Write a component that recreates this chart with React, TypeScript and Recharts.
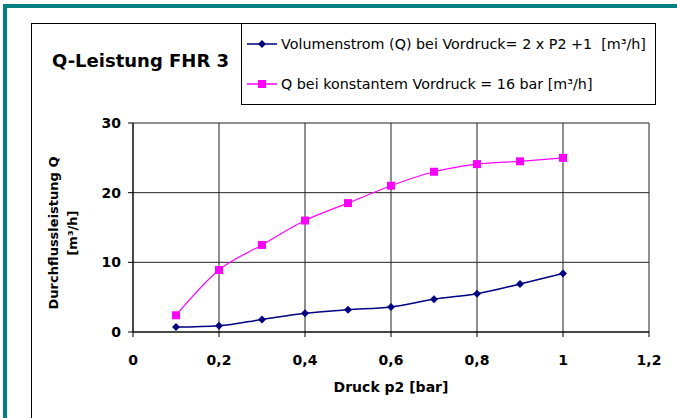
import React from 'react'
import {
  LineChart, Line, XAxis, YAxis, CartesianGrid, Legend,
} from 'recharts'

// Druck p2 [bar]
const pressure = [0.1, 0.2, 0.3, 0.4, 0.5, 0.6, 0.7, 0.8, 0.9, 1.0]
// Volumenstrom bei Vordruck = 2 x P2 + 1
const flowVariable = [0.7, 0.9, 1.8, 2.7, 3.2, 3.6, 4.7, 5.5, 6.9, 8.4]
// Q bei konstantem Vordruck = 16 bar
const flowConstant = [2.4, 8.9, 12.5, 16.0, 18.5, 21.0, 23.0, 24.1, 24.5, 25.0]

const xTicks = [0, 0.2, 0.4, 0.6, 0.8, 1, 1.2]
const yTicks = [0, 10, 20, 30]

const SERIES_1 = 'Volumenstrom (Q) bei Vordruck= 2 x P2 +1  [m³/h]'
const SERIES_2 = 'Q bei konstantem Vordruck = 16 bar [m³/h]'

const FONT = 'DejaVu Sans, Arial, sans-serif'

const data = pressure.map((p, i) => ({
  p,
  a: flowVariable[i],
  b: flowConstant[i],
}))

const fmt = (v: number) => String(v).replace('.', ',')

const Diamond = (props: any) => {
  const { cx, cy } = props
  if (cx == null || cy == null) return null
  return <path d={`M${cx},${cy - 4}L${cx + 4},${cy}L${cx},${cy + 4}L${cx - 4},${cy}Z`} fill="#000080" />
}

const Square = (props: any) => {
  const { cx, cy } = props
  if (cx == null || cy == null) return null
  return <rect x={cx - 4} y={cy - 4} width={8} height={8} fill="#FF00FF" />
}

const LegendBox = () => (
  <div style={{ fontFamily: FONT, fontSize: 14.3, color: '#000', whiteSpace: 'pre' }}>
    <div style={{ display: 'flex', alignItems: 'center', height: 20 }}>
      <svg width={34} height={12}>
        <line x1={0} y1={6} x2={30} y2={6} stroke="#000080" strokeWidth={1.5} />
        <path d="M15,2L19,6L15,10L11,6Z" fill="#000080" />
      </svg>
      <span>{SERIES_1}</span>
    </div>
    <div style={{ display: 'flex', alignItems: 'center', height: 20, marginTop: 20 }}>
      <svg width={34} height={12}>
        <line x1={0} y1={6} x2={30} y2={6} stroke="#FF00FF" strokeWidth={1.5} />
        <rect x={11} y={2} width={8} height={8} fill="#FF00FF" />
      </svg>
      <span>{SERIES_2}</span>
    </div>
  </div>
)

export default function App() {
  return (
    <div style={{ position: 'absolute', left: 0, top: 0, width: 677, height: 418, background: '#fff', overflow: 'hidden' }}>
      {/* Rahmen */}
      <div style={{ position: 'absolute', left: 3, top: 4, width: 674, height: 4, background: '#008080' }} />
      <div style={{ position: 'absolute', left: 3, top: 4, width: 4, height: 414, background: '#008080' }} />
      <div style={{ position: 'absolute', left: 31, top: 23, width: 624, height: 395, borderLeft: '1px solid #000', borderTop: '1px solid #000' }} />
      <div style={{ position: 'absolute', left: 241, top: 23, width: 413, height: 80, border: '1px solid #000' }} />
      <div style={{
        position: 'absolute', left: 52, top: 50, fontFamily: FONT, fontWeight: 'bold', fontSize: 18,
      }}>
        Q-Leistung FHR 3
      </div>
      <LineChart
        width={677}
        height={418}
        data={data}
        margin={{ top: 123, right: 28, bottom: 16, left: 73 }}
        style={{ position: 'absolute', left: 0, top: 0 }}
      >
        <CartesianGrid stroke="#222" strokeWidth={1} horizontal vertical />
        <XAxis
          dataKey="p"
          type="number"
          domain={[0, 1.2]}
          ticks={xTicks}
          tickFormatter={fmt}
          height={70}
          stroke="#000"
          tickSize={5}
          tick={{ fontFamily: FONT, fontSize: 14, fontWeight: 'bold', fill: '#000' }}
          tickMargin={18}
          label={{ value: 'Druck p2 [bar]', position: 'insideBottom', offset: 10, style: { fontFamily: FONT, fontSize: 14, fontWeight: 'bold', fill: '#000' } }}
        />
        <YAxis
          type="number"
          domain={[0, 30]}
          ticks={yTicks}
          width={60}
          stroke="#000"
          tickSize={5}
          tickMargin={7}
          tick={{ fontFamily: FONT, fontSize: 14, fontWeight: 'bold', fill: '#000' }}
        />
        <text x={53} y={233} transform="rotate(-90 53 233)" textAnchor="middle" dominantBaseline="central"
          style={{ fontFamily: FONT, fontSize: 13, fontWeight: 'bold' }}>
          Durchflussleistung Q
        </text>
        <text x={72} y={233} transform="rotate(-90 72 233)" textAnchor="middle" dominantBaseline="central"
          style={{ fontFamily: FONT, fontSize: 13, fontWeight: 'bold' }}>
          [m³/h]
        </text>
        <Legend
          layout="horizontal"
          verticalAlign="middle"
          align="center"
          content={() => <LegendBox />}
          wrapperStyle={{ position: 'absolute', left: 247, top: 34, width: 410 }}
        />
        <Line
          type="monotone"
          dataKey="a"
          name={SERIES_1}
          stroke="#000080"
          strokeWidth={1.5}
          dot={<Diamond />}
          activeDot={false}
          isAnimationActive={false}
        />
        <Line
          type="monotone"
          dataKey="b"
          name={SERIES_2}
          stroke="#FF00FF"
          strokeWidth={1.2}
          dot={<Square />}
          activeDot={false}
          isAnimationActive={false}
        />
      </LineChart>
    </div>
  )
}
